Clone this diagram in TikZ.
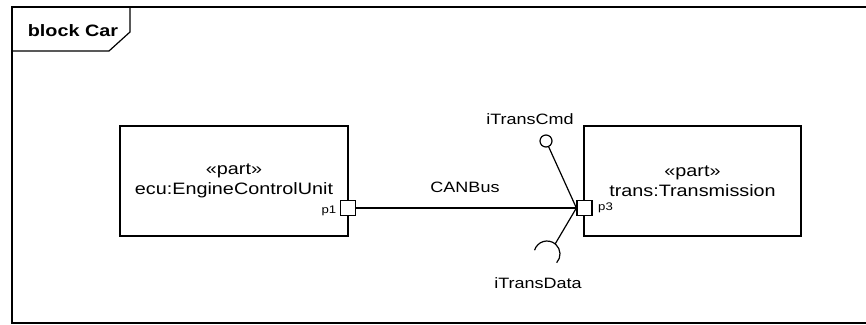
\documentclass[tikz,border=0pt]{standalone}
\usepackage{fontspec}
\setmainfont[FakeStretch=1.2]{Liberation Sans}
\usepackage{tikz}
\usetikzlibrary{positioning,calc}

\begin{document}
\begin{tikzpicture}[x=1pt, y=1pt, line width=1.2pt,
  part/.style={draw, rectangle, align=center, font=\fontsize{16.5}{20}\selectfont},
  port/.style={draw, rectangle, fill=white, minimum size=15pt, inner sep=0pt},
  small/.style={font=\fontsize{11}{12}\selectfont, inner sep=0pt},
  lbl/.style={font=\fontsize{15}{18}\selectfont, inner sep=0pt}]
\useasboundingbox (0,0) rectangle (866,324);
% diagram frame and its name tab
\draw (866,317) -- (12,317) -- (12,1) -- (866,1);
\draw (12,273) -- (109,273) -- (130,292) -- (130,317);
\node[font=\bfseries\fontsize{16.5}{20}\selectfont, inner sep=0pt] (name) at (73,293) {block Car};

\node[part, minimum width=228pt, minimum height=110pt] (ecu) at (234,143) {«part»\\ecu:EngineControlUnit};
\node[part, minimum width=217pt, minimum height=110pt] (trans) at (692.5,143) {«part»\\trans:Transmission};

\node[port] (p1) at (348,116) {};
\node[port] (p3) at (584.5,116) {};
\node[small, left=3pt of p1.south west, anchor=south east] (p1lbl) {p1};
\node[small, right=5pt of p3] (p3lbl) {p3};

\draw (p1) -- (p3);
\node[lbl] (bus) at (465,137) {CANBus};

% provided interface (lollipop)
\node[draw, circle, minimum size=12pt, inner sep=0pt] (cmd) at (546,183) {};
\node[lbl] (cmdlbl) at (530,205) {iTransCmd};
\draw (cmd) -- (p3.west);

% required interface (socket)
\coordinate (sock) at (547,70);
\coordinate (socktop) at ($(sock)+(51:13)$);
\draw (p3.west) -- (socktop);
\draw (sock) ++(-42:13) arc[start angle=-42, end angle=163, radius=13];
\node[lbl] (datalbl) at (538,41) {iTransData};
\end{tikzpicture}
\end{document}
